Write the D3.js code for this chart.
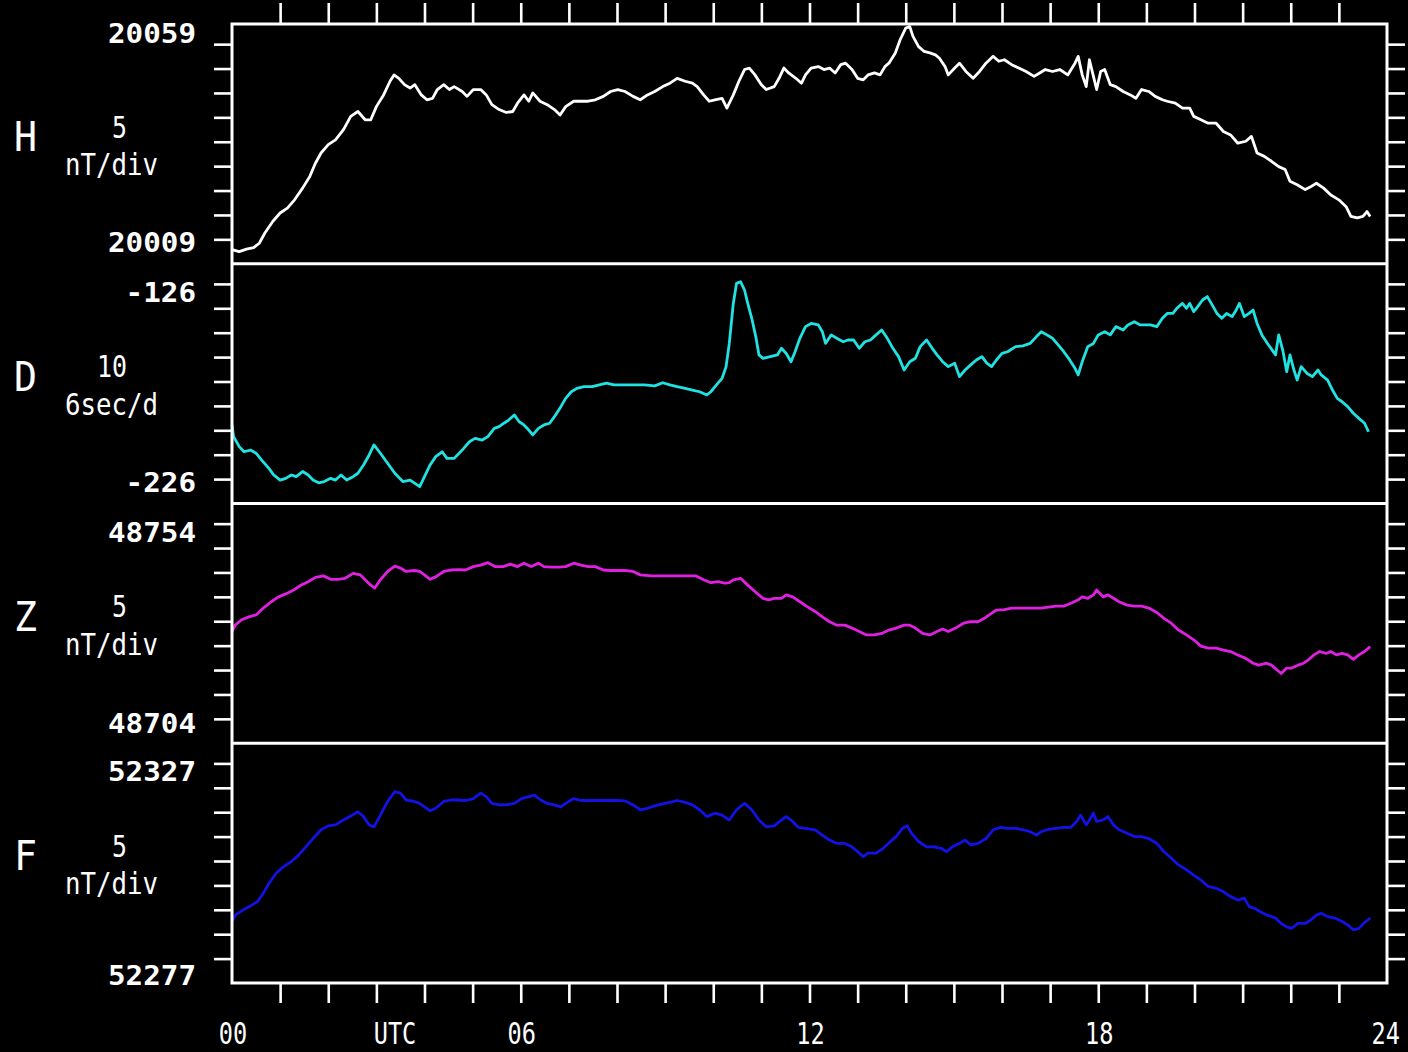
<!DOCTYPE html>
<html>
<head>
<meta charset="utf-8">
<script src="https://cdn.jsdelivr.net/npm/d3@7"></script>
<style>
  html, body { margin: 0; padding: 0; background: #000; }
  svg { display: block; }
</style>
</head>
<body>
<svg id="chart" width="1408" height="1052"></svg>
<script>
// One day of magnetometer readings: [minute of day (UTC), value]
const hData = [[0,20011.9],[9,20011.5],[18,20012.0],[27,20012.3],[34,20013.2],[41,20015.3],[51,20017.7],[60,20019.4],[69,20020.4],[78,20022.1],[88,20024.5],[97,20026.9],[104,20029.6],[111,20031.7],[120,20033.4],[129,20034.4],[139,20036.5],[148,20039.2],[157,20040.2],[166,20038.5],[173,20038.5],[180,20041.2],[189,20043.6],[197,20046.4],[202,20047.7],[208,20047.0],[215,20045.7],[222,20045.0],[228,20045.7],[236,20043.6],[243,20042.6],[250,20042.9],[256,20044.7],[264,20045.7],[271,20044.7],[277,20045.3],[287,20044.3],[293,20043.3],[301,20044.7],[310,20044.7],[317,20043.6],[324,20041.6],[333,20040.6],[342,20040.0],[350,20040.2],[356,20041.9],[364,20043.6],[370,20042.3],[375,20044.0],[384,20042.3],[393,20041.6],[402,20040.6],[409,20039.5],[416,20041.2],[426,20042.3],[435,20042.3],[444,20042.3],[453,20042.6],[463,20043.3],[472,20044.3],[481,20044.7],[490,20044.3],[500,20043.3],[509,20042.6],[518,20043.6],[527,20044.3],[537,20045.3],[546,20046.0],[555,20047.0],[565,20046.4],[574,20046.0],[580,20045.3],[588,20043.6],[595,20042.3],[602,20042.6],[611,20042.9],[617,20040.9],[625,20043.6],[632,20046.4],[639,20048.8],[645,20049.1],[652,20047.7],[660,20045.7],[666,20044.7],[676,20045.3],[682,20047.0],[688,20049.1],[694,20048.1],[703,20047.0],[710,20046.0],[715,20047.7],[722,20049.1],[731,20049.4],[738,20048.8],[745,20049.1],[752,20048.1],[759,20049.8],[765,20050.1],[773,20048.8],[780,20047.0],[787,20046.7],[793,20047.7],[801,20048.1],[808,20047.7],[814,20049.4],[819,20050.1],[827,20052.2],[833,20054.9],[840,20057.3],[845,20057.6],[849,20055.6],[856,20053.5],[863,20052.5],[870,20052.2],[877,20051.8],[882,20051.1],[889,20049.4],[893,20047.7],[901,20049.1],[907,20050.1],[915,20048.4],[924,20047.0],[932,20048.4],[940,20050.1],[949,20051.5],[956,20050.5],[963,20050.8],[972,20049.8],[981,20049.1],[990,20048.4],[1000,20047.4],[1007,20048.1],[1014,20048.8],[1023,20048.4],[1032,20048.8],[1042,20047.7],[1051,20050.1],[1055,20051.5],[1060,20047.7],[1065,20045.3],[1069,20050.8],[1074,20047.4],[1078,20044.7],[1083,20048.4],[1088,20048.8],[1095,20045.7],[1102,20045.3],[1111,20044.3],[1120,20043.6],[1127,20042.9],[1134,20044.7],[1143,20044.3],[1151,20043.3],[1160,20042.6],[1166,20042.3],[1176,20041.9],[1185,20040.9],[1194,20040.9],[1199,20039.2],[1208,20038.5],[1217,20037.8],[1227,20037.8],[1236,20036.1],[1245,20035.4],[1254,20033.7],[1264,20034.1],[1271,20035.1],[1278,20031.7],[1287,20031.0],[1296,20030.0],[1305,20028.9],[1313,20028.3],[1319,20025.9],[1328,20025.2],[1338,20024.2],[1345,20024.8],[1352,20025.5],[1361,20024.5],[1370,20023.1],[1380,20022.1],[1389,20020.7],[1395,20018.7],[1403,20018.4],[1410,20018.7],[1415,20019.7],[1419,20018.7]];

const dData = [[0,-193.8],[2,-198.6],[9,-202.7],[15,-204.8],[23,-204.1],[30,-205.4],[37,-208.2],[46,-211.6],[52,-214.3],[60,-216.4],[67,-215.7],[74,-214.3],[80,-215.0],[88,-212.9],[95,-214.3],[101,-216.4],[108,-217.5],[115,-217.0],[123,-215.7],[129,-216.4],[136,-214.3],[143,-216.4],[151,-215.0],[157,-213.6],[164,-210.2],[171,-206.1],[177,-202.0],[185,-205.4],[194,-209.5],[203,-213.6],[213,-217.0],[222,-216.4],[234,-219.1],[240,-215.0],[247,-210.2],[254,-206.8],[262,-204.8],[268,-207.5],[277,-207.5],[287,-204.1],[296,-200.7],[303,-199.3],[312,-200.0],[319,-198.6],[327,-195.2],[333,-194.5],[339,-193.1],[345,-191.8],[352,-189.7],[358,-192.5],[364,-193.8],[370,-195.9],[375,-197.9],[382,-195.2],[389,-193.8],[396,-193.1],[402,-190.4],[410,-186.3],[416,-182.9],[423,-180.2],[430,-178.8],[439,-178.1],[449,-178.1],[458,-177.4],[467,-176.7],[476,-177.4],[486,-177.4],[500,-177.4],[514,-177.4],[527,-177.8],[537,-176.5],[546,-177.4],[555,-178.1],[565,-178.8],[574,-179.5],[583,-180.2],[592,-181.5],[597,-180.2],[604,-177.4],[611,-174.7],[616,-169.9],[620,-160.4],[625,-144.0],[629,-135.8],[634,-135.1],[639,-138.5],[643,-144.0],[648,-150.1],[653,-157.6],[657,-165.1],[662,-166.5],[671,-165.8],[680,-165.1],[685,-162.4],[691,-164.5],[697,-167.9],[702,-163.8],[708,-158.3],[715,-153.5],[722,-152.2],[731,-152.8],[736,-155.6],[740,-160.4],[747,-156.9],[754,-158.3],[762,-159.7],[768,-159.0],[775,-159.0],[782,-162.4],[789,-159.7],[796,-159.0],[803,-156.9],[810,-154.9],[817,-158.3],[824,-162.4],[831,-165.8],[838,-171.3],[845,-167.9],[852,-166.5],[858,-161.7],[866,-159.0],[873,-162.4],[879,-165.1],[886,-167.9],[893,-169.9],[901,-168.5],[907,-174.0],[914,-171.3],[921,-169.2],[928,-167.2],[935,-165.8],[941,-168.5],[947,-169.9],[953,-167.2],[960,-164.5],[967,-163.8],[977,-161.7],[986,-161.4],[995,-160.4],[1003,-157.6],[1009,-155.6],[1016,-156.9],[1023,-158.3],[1030,-161.0],[1037,-163.8],[1043,-166.5],[1051,-170.6],[1055,-173.3],[1060,-167.9],[1067,-161.7],[1074,-160.4],[1080,-156.9],[1088,-155.6],[1095,-156.9],[1102,-153.5],[1111,-154.9],[1117,-152.8],[1125,-151.5],[1132,-152.8],[1139,-152.8],[1145,-152.8],[1153,-153.5],[1160,-150.1],[1166,-148.1],[1173,-148.1],[1178,-146.0],[1185,-144.0],[1190,-146.0],[1194,-144.0],[1199,-147.4],[1204,-145.3],[1210,-142.6],[1216,-141.2],[1222,-144.6],[1228,-148.1],[1234,-150.1],[1240,-148.1],[1247,-149.4],[1252,-146.7],[1256,-144.0],[1262,-149.4],[1268,-148.1],[1273,-146.7],[1278,-152.2],[1284,-156.9],[1291,-160.4],[1301,-165.1],[1305,-156.9],[1310,-163.1],[1315,-172.0],[1319,-165.1],[1324,-171.3],[1328,-175.4],[1333,-169.9],[1340,-172.6],[1347,-174.0],[1354,-171.3],[1358,-173.3],[1366,-175.4],[1372,-179.5],[1378,-182.9],[1384,-184.3],[1391,-186.3],[1398,-189.0],[1405,-191.1],[1412,-193.1],[1417,-196.6]];

const zData = [[0,48726.9],[4,48728.2],[12,48729.3],[21,48729.9],[30,48730.3],[39,48731.7],[49,48733.0],[58,48734.0],[67,48734.6],[77,48735.4],[86,48736.4],[95,48737.1],[104,48738.0],[114,48738.3],[123,48737.6],[132,48737.6],[141,48737.8],[151,48738.8],[160,48738.5],[166,48737.5],[173,48736.4],[178,48735.8],[185,48737.5],[194,48739.2],[203,48740.3],[210,48739.9],[217,48739.2],[227,48739.4],[234,48739.2],[240,48738.5],[247,48737.6],[254,48738.1],[264,48739.2],[273,48739.5],[282,48739.6],[291,48739.5],[301,48740.2],[310,48740.5],[319,48741.0],[328,48740.2],[338,48740.2],[347,48740.7],[356,48740.2],[364,48740.9],[373,48740.2],[382,48740.9],[389,48740.2],[398,48740.1],[407,48740.1],[416,48740.2],[426,48740.9],[435,48740.5],[444,48740.2],[453,48740.2],[463,48739.5],[472,48739.4],[481,48739.4],[490,48739.4],[500,48739.2],[509,48738.5],[523,48738.3],[537,48738.3],[551,48738.3],[565,48738.3],[578,48738.3],[588,48737.5],[597,48736.9],[606,48737.1],[614,48736.8],[620,48736.9],[625,48737.5],[634,48737.8],[643,48736.4],[652,48735.1],[662,48733.7],[669,48733.4],[676,48733.7],[685,48733.7],[691,48734.4],[699,48734.0],[708,48733.0],[717,48732.0],[727,48731.0],[736,48729.9],[745,48728.9],[754,48728.2],[764,48728.2],[773,48727.6],[782,48726.9],[791,48726.2],[801,48726.2],[810,48726.5],[819,48727.2],[828,48727.6],[838,48728.2],[845,48728.2],[852,48727.6],[861,48726.5],[870,48726.2],[879,48726.9],[886,48727.4],[893,48726.9],[902,48727.6],[912,48728.6],[921,48728.9],[930,48728.9],[938,48729.6],[944,48730.3],[953,48731.3],[963,48731.4],[972,48731.7],[981,48731.7],[990,48731.7],[1000,48731.7],[1009,48731.7],[1018,48731.9],[1027,48732.1],[1037,48732.1],[1046,48732.7],[1055,48733.4],[1060,48734.0],[1067,48733.7],[1074,48734.4],[1078,48735.4],[1086,48734.0],[1092,48734.4],[1099,48733.7],[1106,48733.0],[1116,48732.3],[1125,48732.1],[1134,48732.1],[1143,48731.7],[1153,48730.8],[1162,48729.6],[1171,48728.6],[1180,48727.2],[1190,48726.2],[1199,48725.2],[1208,48723.9],[1217,48723.5],[1227,48723.5],[1236,48723.1],[1245,48722.8],[1254,48722.1],[1264,48721.4],[1273,48720.4],[1280,48720.0],[1290,48720.4],[1296,48720.0],[1303,48719.0],[1308,48718.3],[1315,48719.4],[1321,48719.4],[1329,48720.0],[1336,48720.4],[1342,48721.1],[1349,48722.1],[1356,48722.8],[1364,48722.4],[1370,48722.8],[1377,48722.1],[1384,48722.4],[1391,48722.1],[1398,48721.2],[1405,48722.1],[1412,48722.8],[1419,48723.8]];

const fData = [[0,52289.6],[4,52290.9],[14,52292.0],[23,52292.8],[32,52293.7],[39,52295.4],[46,52297.4],[55,52299.5],[64,52300.8],[74,52301.9],[83,52303.2],[92,52304.9],[101,52306.6],[111,52308.4],[120,52309.2],[129,52309.4],[139,52310.4],[148,52311.2],[157,52312.1],[164,52311.1],[171,52309.4],[177,52309.0],[185,52311.4],[194,52314.2],[203,52316.2],[210,52315.9],[217,52314.5],[227,52314.2],[234,52313.8],[240,52313.1],[247,52312.3],[254,52312.8],[264,52314.2],[273,52314.5],[282,52314.5],[291,52314.4],[301,52314.8],[310,52315.9],[317,52315.2],[324,52313.8],[333,52313.5],[342,52313.5],[352,52313.8],[361,52314.8],[370,52315.2],[377,52315.5],[384,52314.6],[393,52313.8],[402,52313.5],[410,52313.1],[416,52313.8],[426,52314.8],[435,52314.4],[444,52314.4],[453,52314.4],[463,52314.4],[472,52314.4],[481,52314.4],[490,52314.3],[500,52313.5],[509,52312.5],[518,52312.8],[527,52313.3],[537,52313.7],[546,52314.0],[555,52314.4],[565,52314.0],[574,52313.5],[583,52312.5],[592,52311.1],[602,52311.8],[611,52311.4],[620,52310.4],[629,52312.5],[639,52313.8],[648,52312.5],[657,52310.4],[666,52309.0],[676,52309.2],[685,52310.4],[691,52311.1],[699,52310.1],[706,52308.9],[715,52308.7],[727,52308.4],[736,52307.3],[745,52306.3],[754,52305.6],[764,52305.6],[773,52304.9],[780,52303.9],[787,52302.9],[793,52303.6],[803,52303.6],[812,52304.6],[821,52306.0],[828,52307.0],[836,52308.7],[842,52309.2],[847,52307.7],[856,52306.0],[866,52304.9],[875,52304.9],[884,52304.6],[891,52303.9],[898,52304.9],[907,52305.6],[914,52306.3],[921,52305.3],[930,52305.6],[940,52306.6],[949,52308.4],[958,52308.9],[967,52308.7],[977,52308.7],[986,52308.4],[995,52308.0],[1003,52307.3],[1009,52308.0],[1018,52308.5],[1027,52308.7],[1037,52308.9],[1046,52308.9],[1053,52310.1],[1058,52311.4],[1065,52309.4],[1069,52310.4],[1074,52311.8],[1078,52310.1],[1086,52310.4],[1092,52311.1],[1099,52309.4],[1106,52308.4],[1116,52307.7],[1125,52307.0],[1134,52307.0],[1143,52306.6],[1153,52305.6],[1162,52303.9],[1171,52302.6],[1180,52301.2],[1190,52300.2],[1199,52299.1],[1208,52298.1],[1217,52296.8],[1227,52296.4],[1236,52295.7],[1245,52294.7],[1254,52294.0],[1262,52294.4],[1268,52292.7],[1275,52292.3],[1282,52291.6],[1291,52290.9],[1301,52290.3],[1308,52289.2],[1315,52288.5],[1321,52288.2],[1329,52289.2],[1338,52289.2],[1345,52289.9],[1352,52290.9],[1358,52291.3],[1366,52290.6],[1375,52290.3],[1384,52289.6],[1391,52288.9],[1398,52287.9],[1405,52288.2],[1412,52289.4],[1419,52290.3]];

// Panel definitions
const components = ['H', 'D', 'Z', 'F'];
const seriesList = [hData, dData, zData, fData];
const divisionLabels = ['5', '10', '5', '5'];
const unitLabels = ['nT/div', '6sec/d', 'nT/div', 'nT/div'];
const rangeTopLabels = ['20059', '-126', '48754', '52327'];
const rangeBottomLabels = ['20009', '-226', '48704', '52277'];
const rangeBottom = [20009, -226, 48704, 52277];
const divisionSize = [5, 10, 5, 5];

// Time axis
const hourTicks = d3.range(60, 1440, 60);
const timeLabelMinutes = [0, 202, 360, 720, 1080, 1440];
const timeLabelText = ['00', 'UTC', '06', '12', '18', '24'];

// ---- layout ----
const W = 1408;
const plotLeft = 232, plotRight = 1387, plotTop = 24, plotBottom = 983;
const panelH = (plotBottom - plotTop) / 4;
const divPx = 24.4;
const seriesColors = ['#ffffff', '#20e2e2', '#e020e0', '#1212e4'];
const font = "'DejaVu Sans Mono', 'Liberation Mono', monospace";
const topLabelBase = [19, 38, 38.5, 38];
const bottomLabelBase = [228, 228, 229.5, 242];

const svg = d3.select('#chart');
svg.append('rect').attr('width', W).attr('height', 1052).attr('fill', '#000');

const x = d3.scaleLinear().domain([0, 1440]).range([plotLeft, plotRight]);

function text(px, py, str, size, weight, width, anchor) {
  let left = px;
  if (anchor === 'end') left = px - width;
  else if (anchor === 'middle') left = px - width / 2;
  left = Math.min(left, W - width - 8);
  svg.append('text')
    .attr('x', left).attr('y', py)
    .attr('font-family', font)
    .attr('font-size', size)
    .attr('font-weight', weight)
    .attr('fill', '#fff')
    .attr('textLength', width)
    .attr('lengthAdjust', 'spacingAndGlyphs')
    .text(str);
}

function styleAxis(g) {
  g.select('.domain').remove();
  g.selectAll('.tick line').attr('stroke', '#fff').attr('stroke-width', 2.6);
  g.selectAll('.tick text').remove();
}

const line = d3.line();

components.forEach((comp, i) => {
  const top = plotTop + i * panelH;
  const bottom = top + panelH;
  const lo = rangeBottom[i];
  const step = divisionSize[i];
  const y = d3.scaleLinear().domain([lo, lo + 10 * step]).range([bottom, bottom - 10 * divPx]);
  const tickVals = d3.range(1, 10).map(k => lo + k * step);

  svg.append('g').attr('transform', `translate(${plotLeft},0)`)
    .call(d3.axisLeft(y).tickValues(tickVals).tickSize(18).tickFormat(''))
    .call(styleAxis);
  svg.append('g').attr('transform', `translate(${plotRight},0)`)
    .call(d3.axisRight(y).tickValues(tickVals).tickSize(18).tickFormat(''))
    .call(styleAxis);

  line.x(d => x(d[0])).y(d => y(d[1]));
  svg.append('path')
    .datum(seriesList[i])
    .attr('d', line)
    .attr('fill', 'none')
    .attr('stroke', seriesColors[i])
    .attr('stroke-width', 2.8)
    .attr('stroke-linejoin', 'round');

  // panel annotations
  text(14, top + 127, comp, 41, 'normal', 23, 'start');
  text(127, top + 113.5, divisionLabels[i], 30, 'normal', divisionLabels[i].length * 15, 'end');
  text(65, top + 151, unitLabels[i], 30, 'normal', 93, 'start');
  text(196, top + topLabelBase[i], rangeTopLabels[i], 27, 'bold', rangeTopLabels[i].length * 17.6, 'end');
  text(196, top + bottomLabelBase[i], rangeBottomLabels[i], 27, 'bold', rangeBottomLabels[i].length * 17.6, 'end');

  if (i > 0) {
    svg.append('line')
      .attr('x1', plotLeft).attr('x2', plotRight)
      .attr('y1', top).attr('y2', top)
      .attr('stroke', '#fff').attr('stroke-width', 3);
  }
});

// hour ticks above and below the stack
svg.append('g').attr('transform', `translate(0,${plotTop})`)
  .call(d3.axisTop(x).tickValues(hourTicks).tickSize(21).tickFormat(''))
  .call(styleAxis);
svg.append('g').attr('transform', `translate(0,${plotBottom})`)
  .call(d3.axisBottom(x).tickValues(hourTicks).tickSize(20).tickFormat(''))
  .call(styleAxis);

// frame
svg.append('rect')
  .attr('x', plotLeft).attr('y', plotTop)
  .attr('width', plotRight - plotLeft).attr('height', plotBottom - plotTop)
  .attr('fill', 'none').attr('stroke', '#fff').attr('stroke-width', 3);

// time labels
timeLabelMinutes.forEach((m, k) => {
  const s = timeLabelText[k];
  text(x(m) + 1, 1044, s, 30, 'normal', s.length * 14.2, 'middle');
});
</script>
</body>
</html>
